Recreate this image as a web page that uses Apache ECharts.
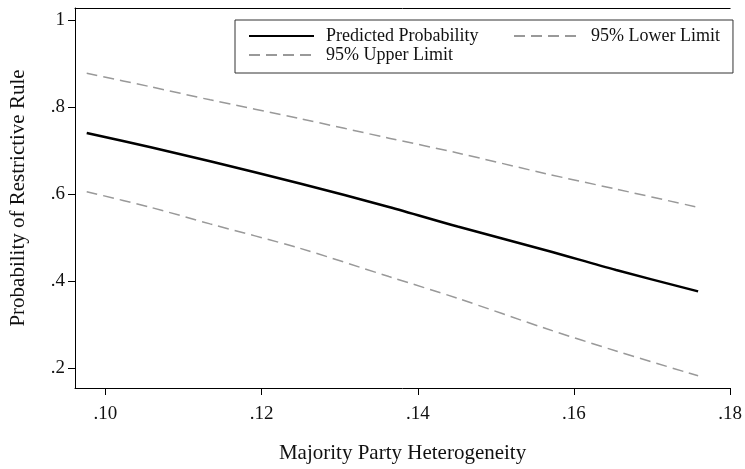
<!DOCTYPE html>
<html>
<head>
<meta charset="utf-8">
<script src="https://cdn.jsdelivr.net/npm/echarts@6/dist/echarts.min.js"></script>
<style>
  html, body { margin: 0; padding: 0; background: #fff; }
  #main { width: 745px; height: 469px; }
</style>
</head>
<body>
<div id="main"></div>
<script>
// heterogeneity values (x)
var heterogeneity = [0.0976, 0.1058, 0.1134, 0.1249, 0.1363, 0.1451, 0.1565, 0.1654, 0.1759];
var predicted = [0.741, 0.708, 0.676, 0.625, 0.571, 0.526, 0.471, 0.426, 0.377];
var upperLimit = [0.878, 0.847, 0.817, 0.774, 0.729, 0.695, 0.647, 0.612, 0.570];
var lowerLimit = [0.606, 0.570, 0.532, 0.476, 0.411, 0.361, 0.291, 0.240, 0.183];

var xTicks = [0.10, 0.12, 0.14, 0.16, 0.18];
var xTickLabels = ['.10', '.12', '.14', '.16', '.18'];
var yTicks = [0.2, 0.4, 0.6, 0.8, 1];
var yTickLabels = ['.2', '.4', '.6', '.8', '1'];

function pairs(ys) {
    return heterogeneity.map(function (x, i) { return [x, ys[i]]; });
}

var serif = 'Liberation Serif';
var myChart = echarts.init(document.getElementById('main'));

var option = {
    backgroundColor: '#fff',
    animation: false,
    textStyle: { fontFamily: serif, color: '#111' },
    grid: { left: 73, right: 10, top: 8, bottom: 73 },
    legend: {
        left: 235,
        top: 20,
        width: 480,
        padding: [7, 13, 9, 13],
        itemGap: 1,
        itemWidth: 65,
        itemHeight: 14,
        itemStyle: { opacity: 0 },
        borderColor: '#333',
        borderWidth: 1,
        borderRadius: 0,
        textStyle: { fontFamily: serif, fontSize: 18, lineHeight: 18, color: '#111', padding: [0, 0, 0, 7] },
        data: [
            { name: 'Predicted Probability', textStyle: { width: 186 } },
            { name: '95% Lower Limit' },
            { name: '95% Upper Limit' }
        ]
    },
    xAxis: [{
        type: 'value',
        min: 0.0961,
        max: 0.18,
        name: 'Majority Party Heterogeneity',
        nameLocation: 'middle',
        nameGap: 55,
        nameTextStyle: { fontFamily: serif, fontSize: 21, color: '#111' },
        axisLine: { show: true, lineStyle: { color: '#000', width: 1 } },
        axisTick: { show: true, length: 7, customValues: xTicks, lineStyle: { color: '#000' } },
        axisLabel: {
            fontFamily: serif, fontSize: 19, color: '#111', margin: 17,
            customValues: xTicks,
            formatter: function (v) { return xTickLabels[xTicks.indexOf(Math.round(v * 100) / 100)]; }
        },
        splitLine: { show: false }
    }, {
        type: 'value',
        position: 'top',
        min: 0.0961,
        max: 0.18,
        axisLine: { show: true, lineStyle: { color: '#000', width: 1 } },
        axisTick: { show: false },
        axisLabel: { show: false },
        splitLine: { show: false }
    }],
    yAxis: {
        type: 'value',
        min: 0.155,
        max: 1.028,
        name: 'Probability of Restrictive Rule',
        nameLocation: 'middle',
        nameGap: 46,
        nameTextStyle: { fontFamily: serif, fontSize: 21, color: '#111' },
        axisLine: { show: true, lineStyle: { color: '#000', width: 1 } },
        axisTick: { show: true, length: 7, customValues: yTicks, lineStyle: { color: '#000' } },
        axisLabel: {
            fontFamily: serif, fontSize: 19, color: '#111', margin: 10,
            customValues: yTicks,
            formatter: function (v) { return yTickLabels[yTicks.indexOf(Math.round(v * 10) / 10)]; }
        },
        splitLine: { show: false }
    },
    series: [{
        name: 'Predicted Probability',
        type: 'line',
        data: pairs(predicted),
        showSymbol: false,
        symbol: 'none',
        smooth: 0.3,
        lineStyle: { color: '#000', width: 2.5 },
        itemStyle: { color: '#000' }
    }, {
        name: '95% Lower Limit',
        type: 'line',
        data: pairs(lowerLimit),
        showSymbol: false,
        symbol: 'none',
        smooth: 0.3,
        lineStyle: { color: '#999', width: 1.5, type: [11, 6] },
        itemStyle: { color: '#999' }
    }, {
        name: '95% Upper Limit',
        type: 'line',
        data: pairs(upperLimit),
        showSymbol: false,
        symbol: 'none',
        smooth: 0.3,
        lineStyle: { color: '#999', width: 1.5, type: [11, 6] },
        itemStyle: { color: '#999' }
    }]
};

myChart.setOption(option);
</script>
</body>
</html>
